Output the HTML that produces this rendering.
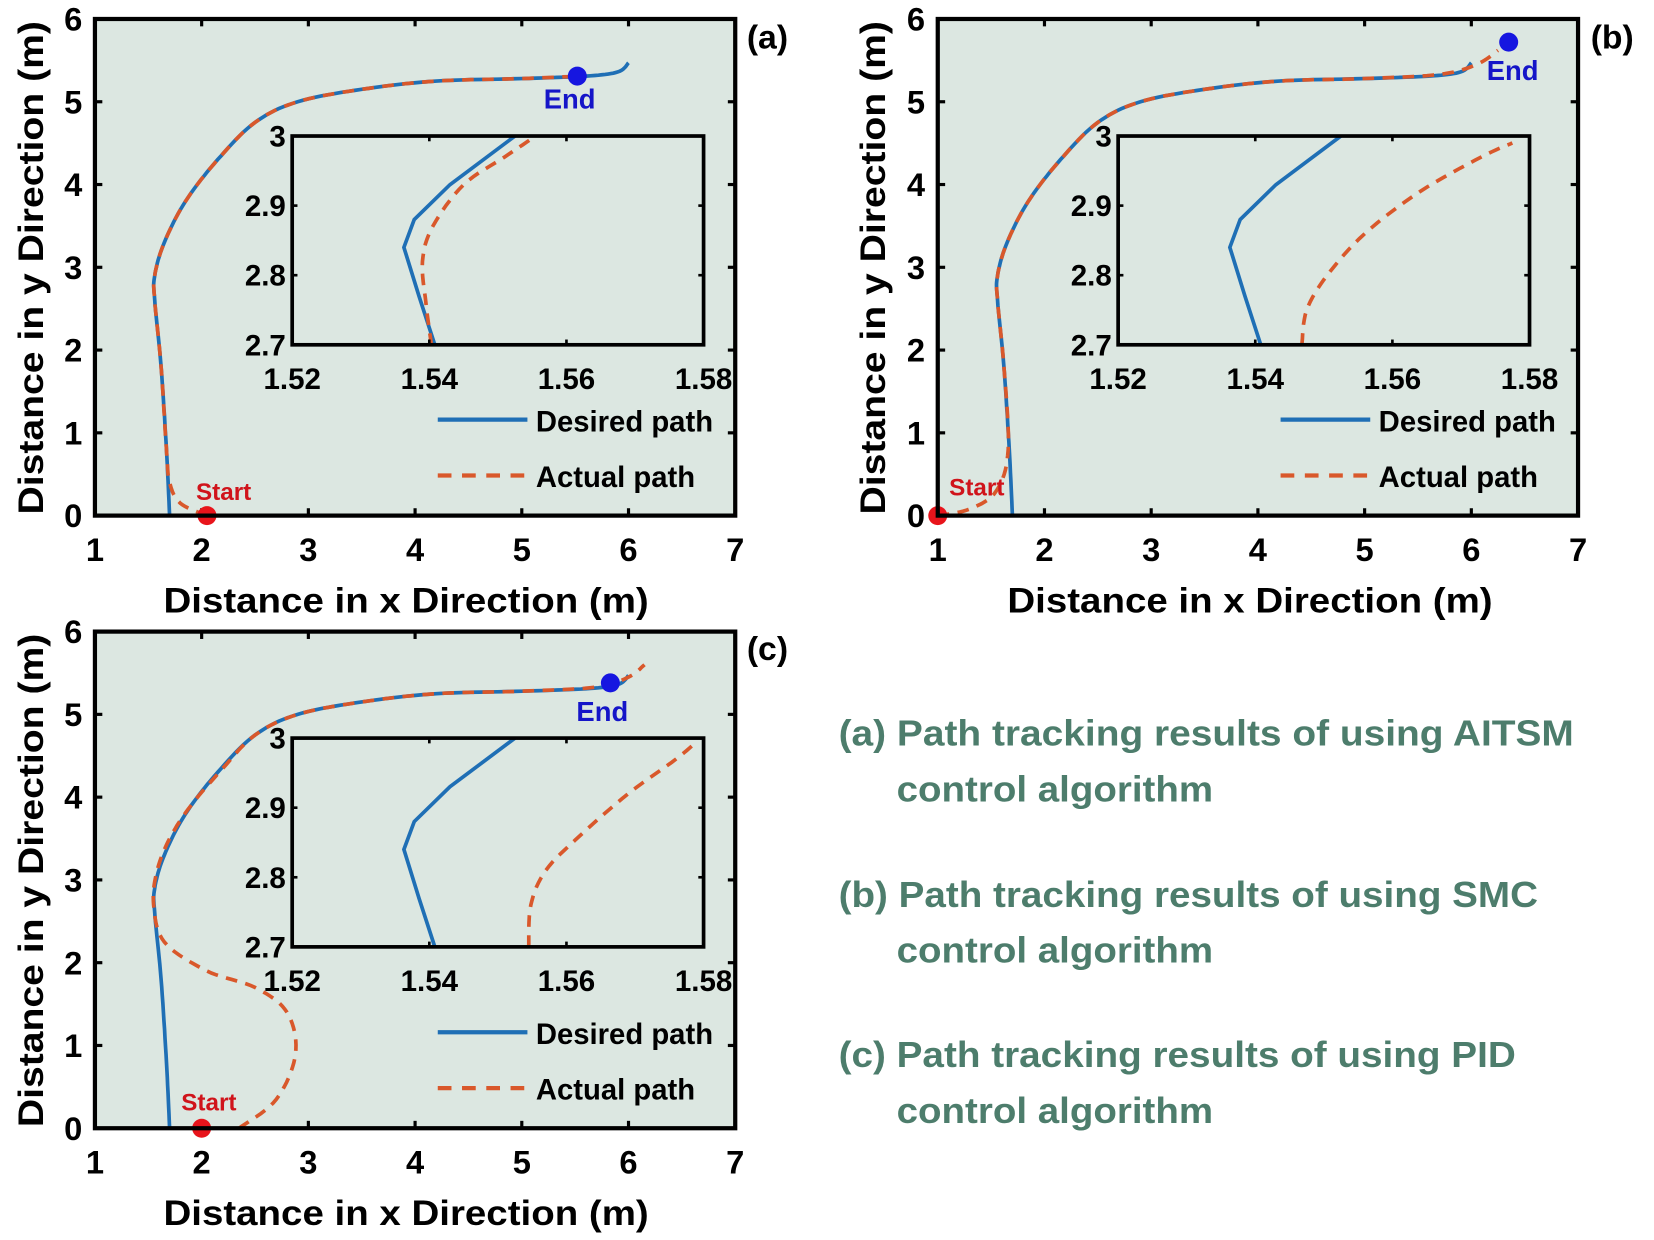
<!DOCTYPE html>
<html><head><meta charset="utf-8"><style>
html,body{margin:0;padding:0;background:#fff;}
svg{display:block;}
text{font-family:"Liberation Sans",sans-serif;font-weight:bold;}
</style></head><body>
<svg id="s" width="1654" height="1240" viewBox="0 0 1568 1176" preserveAspectRatio="none" xmlns="http://www.w3.org/2000/svg">
<rect width="1568" height="1176" fill="#fff"/>
<g id="g"></g>
<text x="708" y="46" font-size="32">(a)</text>
<text x="1508" y="46" font-size="32">(b)</text>
<text x="708" y="626" font-size="32">(c)</text>
<text x="155" y="581" font-size="33" textLength="460" lengthAdjust="spacingAndGlyphs">Distance in x Direction (m)</text>
<text x="955" y="581" font-size="33" textLength="460" lengthAdjust="spacingAndGlyphs">Distance in x Direction (m)</text>
<text x="155" y="1162" font-size="33" textLength="460" lengthAdjust="spacingAndGlyphs">Distance in x Direction (m)</text>
<text transform="translate(41,488) rotate(-90)" font-size="33" textLength="468" lengthAdjust="spacingAndGlyphs">Distance in y Direction (m)</text>
<text transform="translate(839,488) rotate(-90)" font-size="33" textLength="468" lengthAdjust="spacingAndGlyphs">Distance in y Direction (m)</text>
<text transform="translate(41,1069) rotate(-90)" font-size="33" textLength="468" lengthAdjust="spacingAndGlyphs">Distance in y Direction (m)</text>
<g fill="#4d7d6c" font-size="34" lengthAdjust="spacingAndGlyphs">
<text x="795" y="707" textLength="697" lengthAdjust="spacingAndGlyphs">(a) Path tracking results of using AITSM</text>
<text x="850" y="760" textLength="300" lengthAdjust="spacingAndGlyphs">control algorithm</text>
<text x="795" y="860" textLength="663" lengthAdjust="spacingAndGlyphs">(b) Path tracking results of using SMC</text>
<text x="850" y="913" textLength="300" lengthAdjust="spacingAndGlyphs">control algorithm</text>
<text x="795" y="1012" textLength="642" lengthAdjust="spacingAndGlyphs">(c) Path tracking results of using PID</text>
<text x="850" y="1065" textLength="300" lengthAdjust="spacingAndGlyphs">control algorithm</text>
</g>
</svg>
<script>
var NS="http://www.w3.org/2000/svg",G=document.getElementById("g");
function el(t,a,txt){var e=document.createElementNS(NS,t);for(var k in a)e.setAttribute(k,a[k]);if(txt!==undefined)e.textContent=txt;G.appendChild(e);return e;}
function path(pts,fx,fy,attrs){var d="";pts.forEach(function(p,i){d+=(i?"L":"M")+fx(p[0]).toFixed(1)+" "+fy(p[1]).toFixed(1);});var a={d:d,fill:"none"};for(var k in attrs)a[k]=attrs[k];return el("path",a);}
function smooth(pts,n){var out=[];for(var i=0;i<pts.length-1;i++){var p0=pts[Math.max(i-1,0)],p1=pts[i],p2=pts[i+1],p3=pts[Math.min(i+2,pts.length-1)];for(var t=0;t<n;t++){var s=t/n,s2=s*s,s3=s2*s;out.push([0.5*(2*p1[0]+(-p0[0]+p2[0])*s+(2*p0[0]-5*p1[0]+4*p2[0]-p3[0])*s2+(-p0[0]+3*p1[0]-3*p2[0]+p3[0])*s3),0.5*(2*p1[1]+(-p0[1]+p2[1])*s+(2*p0[1]-5*p1[1]+4*p2[1]-p3[1])*s2+(-p0[1]+3*p1[1]-3*p2[1]+p3[1])*s3)]);}}out.push(pts[pts.length-1]);return out;}
var blue="#1f6fb5",orange="#d9582b",bg="#dce7e1";
var desired=[[1.7,0],[1.67,0.8],[1.62,1.8],[1.56,2.6],[1.56,2.9],[1.65,3.3],[1.85,3.8],[2.15,4.3],[2.5,4.75],[2.9,5.0],[3.5,5.15],[4.2,5.25],[5.0,5.28],[5.6,5.31],[5.9,5.36],[6.0,5.47]];
var panels=[
 {ox:0,oy:0,ix:277,iy:129,start:[2.05,0],end:[5.52,5.31],endTxt:[540,103],startTxt:[212,474],
  act:[[2.05,0],[1.8,0.15],[1.7,0.4],[1.67,0.8],[1.62,1.8],[1.56,2.6],[1.56,2.9],[1.65,3.3],[1.85,3.8],[2.15,4.3],[2.5,4.75],[2.9,5.0],[3.5,5.15],[4.2,5.25],[5.0,5.28],[5.55,5.31]],
  iact:[[1.5403,2.7],[1.5395,2.76],[1.539,2.82],[1.5405,2.87],[1.545,2.93],[1.551,2.97],[1.5555,3.0]]},
 {ox:799,oy:0,ix:1060,iy:129,start:[1,0],end:[6.35,5.72],endTxt:[1434,76],startTxt:[926,470],
  act:[[1,0],[1.3,0.08],[1.55,0.3],[1.66,0.8],[1.62,1.8],[1.56,2.6],[1.56,2.9],[1.65,3.3],[1.85,3.8],[2.15,4.3],[2.5,4.75],[2.9,5.0],[3.5,5.15],[4.2,5.25],[5.0,5.28],[5.7,5.33],[6.05,5.45],[6.25,5.62]],
  iact:[[1.5468,2.7],[1.5475,2.75],[1.5505,2.8],[1.556,2.86],[1.564,2.92],[1.573,2.97],[1.5775,2.99]]},
 {ox:0,oy:581,ix:277,iy:700,start:[2.0,0],end:[5.83,5.38],endTxt:[571,684],startTxt:[198,1053],
  act:[[2.35,0],[2.7,0.35],[2.88,0.9],[2.8,1.4],[2.5,1.7],[2.05,1.9],[1.65,2.25],[1.55,2.7],[1.58,3.1],[1.7,3.5],[1.9,3.9],[2.2,4.35],[2.5,4.75],[2.9,5.0],[3.5,5.15],[4.2,5.25],[5.0,5.28],[5.7,5.33],[6.0,5.45],[6.15,5.6]],
  iact:[[1.5545,2.7],[1.5548,2.76],[1.557,2.81],[1.562,2.86],[1.569,2.92],[1.576,2.97],[1.579,2.995]]}
];
var idesired=[[1.5408,2.7],[1.5385,2.77],[1.5363,2.84],[1.5378,2.88],[1.543,2.93],[1.5525,3.0]];
panels.forEach(function(P){
 var L=90+P.ox,R=697+P.ox,T=18+P.oy,B=489+P.oy;
 var fx=function(x){return L+(x-1)*(R-L)/6;},fy=function(y){return B-y*(B-T)/6;};
 el("rect",{x:L,y:T,width:R-L,height:B-T,fill:bg});
 for(var i=1;i<=7;i++){var x=fx(i);el("line",{x1:x,y1:B,x2:x,y2:B-7,stroke:"#000","stroke-width":3});el("line",{x1:x,y1:T,x2:x,y2:T+7,stroke:"#000","stroke-width":3});el("text",{x:x,y:B+43,"font-size":31,"text-anchor":"middle"},String(i));}
 for(var j=0;j<=6;j++){var y=fy(j);el("line",{x1:L,y1:y,x2:L+7,y2:y,stroke:"#000","stroke-width":3});el("line",{x1:R,y1:y,x2:R-7,y2:y,stroke:"#000","stroke-width":3});el("text",{x:L-12,y:y+11,"font-size":31,"text-anchor":"end"},String(j));}
 var iL=P.ix,iR=P.ix+390,iT=P.iy,iB=P.iy+198;
 var gx=function(x){return iL+(x-1.52)/0.06*390;},gy=function(y){return iB-(y-2.7)/0.3*198;};
 path(smooth(desired,10),fx,fy,{stroke:blue,"stroke-width":3.5});
 path(smooth(P.act,10),fx,fy,{stroke:orange,"stroke-width":3.5,"stroke-dasharray":"11 8"});
 el("rect",{x:iL,y:iT,width:390,height:198,fill:bg});
 path(idesired,gx,gy,{stroke:blue,"stroke-width":3.5});
 path(smooth(P.iact,8),gx,gy,{stroke:orange,"stroke-width":3.5,"stroke-dasharray":"11 8"});
 el("rect",{x:iL,y:iT,width:390,height:198,fill:"none",stroke:"#000","stroke-width":3.5});
 [1.52,1.54,1.56,1.58].forEach(function(v){var x=gx(v);el("line",{x1:x,y1:iB,x2:x,y2:iB-5,stroke:"#000","stroke-width":2.5});el("line",{x1:x,y1:iT,x2:x,y2:iT+5,stroke:"#000","stroke-width":2.5});el("text",{x:x,y:iB+42,"font-size":28,"text-anchor":"middle","font-weight":"normal"},v.toFixed(2));});
 [2.7,2.8,2.9,3].forEach(function(v){var y=gy(v);el("line",{x1:iL,y1:y,x2:iL+5,y2:y,stroke:"#000","stroke-width":2.5});el("line",{x1:iR,y1:y,x2:iR-5,y2:y,stroke:"#000","stroke-width":2.5});el("text",{x:iL-6,y:y+10,"font-size":28,"text-anchor":"end","font-weight":"normal"},v===3?"3":v.toFixed(1));});
 el("line",{x1:415+P.ox,y1:398+P.oy,x2:500+P.ox,y2:398+P.oy,stroke:blue,"stroke-width":4});
 el("text",{x:508+P.ox,y:409+P.oy,"font-size":28,"font-weight":"normal",textLength:168,lengthAdjust:"spacingAndGlyphs"},"Desired path");
 el("line",{x1:415+P.ox,y1:451+P.oy,x2:500+P.ox,y2:451+P.oy,stroke:orange,"stroke-width":4,"stroke-dasharray":"13 10"});
 el("text",{x:508+P.ox,y:462+P.oy,"font-size":28,"font-weight":"normal",textLength:151,lengthAdjust:"spacingAndGlyphs"},"Actual path");
 el("circle",{cx:fx(P.start[0]),cy:fy(P.start[1]),r:9,fill:"#e8141b"});
 el("circle",{cx:fx(P.end[0]),cy:fy(P.end[1]),r:9,fill:"#1616e0"});
 el("text",{x:P.startTxt[0],y:P.startTxt[1],"font-size":23,fill:"#d0141b","text-anchor":"middle"},"Start");
 el("text",{x:P.endTxt[0],y:P.endTxt[1],"font-size":26,fill:"#1515c8","text-anchor":"middle"},"End");
 el("rect",{x:L,y:T,width:R-L,height:B-T,fill:"none",stroke:"#000","stroke-width":4});
});
</script>
</body></html>
